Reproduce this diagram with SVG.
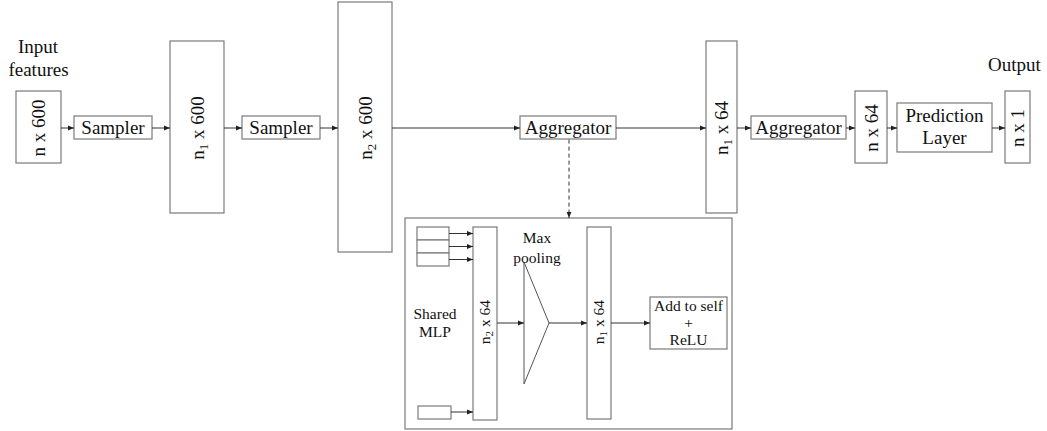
<svg xmlns="http://www.w3.org/2000/svg" width="1047" height="431" viewBox="0 0 1047 431">
<style>
.box{fill:#fff;stroke:#7a7a7a;stroke-width:1.2}
.ln{fill:none;stroke:#333;stroke-width:1}
.t{font-family:"Liberation Serif","Times New Roman",serif;font-size:19px;fill:#111}
.s{font-family:"Liberation Serif","Times New Roman",serif;font-size:15.5px;fill:#111}
.m{text-anchor:middle}
</style>
<defs>
<marker id="ah" viewBox="0 0 6 6" refX="6" refY="3" markerWidth="6" markerHeight="6" markerUnits="userSpaceOnUse" orient="auto">
<path d="M0,0.6 L6,3 L0,5.4 Z" fill="#222"/>
</marker>
</defs>
<rect width="1047" height="431" fill="#fff"/>
<g id="label-input">
<text class="t m" x="38" y="53">Input</text>
<text class="t m" x="38.5" y="76">features</text>
</g>
<g id="label-output">
<text class="t m" x="1014.5" y="71">Output</text>
</g>
<g id="in-n600">
<rect class="box" x="16" y="91" width="45" height="72"/>
<text class="t m" transform="translate(44.5,128) rotate(-90)">n x 600</text>
</g>
<g id="sampler1">
<rect class="box" x="74" y="116" width="78" height="23"/>
<text class="t m" x="113" y="133.5">Sampler</text>
</g>
<g id="n1-600">
<rect class="box" x="170" y="41" width="54" height="172"/>
<text class="t m" transform="translate(203.5,128) rotate(-90)">n<tspan font-size="13" dy="4">1</tspan><tspan dy="-4"> x 600</tspan></text>
</g>
<g id="sampler2">
<rect class="box" x="242" y="116" width="78" height="23"/>
<text class="t m" x="281" y="133.5">Sampler</text>
</g>
<g id="n2-600">
<rect class="box" x="338" y="2" width="54" height="250"/>
<text class="t m" transform="translate(371.5,128) rotate(-90)">n<tspan font-size="13" dy="4">2</tspan><tspan dy="-4"> x 600</tspan></text>
</g>
<g id="aggregator1">
<rect class="box" x="520" y="116" width="96" height="23"/>
<text class="t m" x="568" y="133.5">Aggregator</text>
</g>
<g id="n1-64">
<rect class="box" x="706" y="41" width="31" height="172"/>
<text class="t m" transform="translate(728,128) rotate(-90)">n<tspan font-size="13" dy="4">1</tspan><tspan dy="-4"> x 64</tspan></text>
</g>
<g id="aggregator2">
<rect class="box" x="751" y="116" width="95" height="23"/>
<text class="t m" x="798.5" y="133.5">Aggregator</text>
</g>
<g id="n-64">
<rect class="box" x="855" y="91" width="32" height="72"/>
<text class="t m" transform="translate(877.5,128) rotate(-90)">n x 64</text>
</g>
<g id="prediction">
<rect class="box" x="897" y="103" width="95" height="49"/>
<text class="t m" x="944.5" y="122">Prediction</text>
<text class="t m" x="944.5" y="144">Layer</text>
</g>
<g id="n-1">
<rect class="box" x="1005" y="91" width="25" height="72"/>
<text class="t m" transform="translate(1024,128) rotate(-90)">n x 1</text>
</g>
<g id="detail">
<rect class="box" x="405" y="218" width="327" height="211"/>
</g>
<g id="mlp-inputs">
<rect class="box" x="417" y="227" width="32" height="13"/>
<rect class="box" x="417" y="240" width="32" height="13"/>
<rect class="box" x="417" y="253" width="32" height="13"/>
<rect class="box" x="418" y="406" width="33" height="13"/>
</g>
<g id="shared-mlp">
<text class="s m" x="435" y="319">Shared</text>
<text class="s m" x="435" y="337">MLP</text>
</g>
<g id="n2-64">
<rect class="box" x="473" y="227" width="24" height="193"/>
<text class="s m" transform="translate(490,322) rotate(-90)">n<tspan font-size="11" dy="3">2</tspan><tspan dy="-3"> x 64</tspan></text>
</g>
<g id="maxpool">
<polygon points="524,262 549,323 524,384" fill="#fff" stroke="#555" stroke-width="1"/>
<text class="s m" x="537" y="243">Max</text>
<text class="s m" x="537" y="263">pooling</text>
</g>
<g id="n1-64-inner">
<rect class="box" x="587" y="227" width="24" height="192"/>
<text class="s m" transform="translate(604,322) rotate(-90)">n<tspan font-size="11" dy="3">1</tspan><tspan dy="-3"> x 64</tspan></text>
</g>
<g id="add-relu">
<rect class="box" x="650" y="297" width="77" height="52"/>
<text class="s m" x="688.5" y="311">Add to self</text>
<text class="s m" x="688.5" y="328">+</text>
<text class="s m" x="688.5" y="345">ReLU</text>
</g>
<g id="connectors">
<line class="ln" x1="61" y1="128" x2="74" y2="128" marker-end="url(#ah)"/>
<line class="ln" x1="152" y1="128" x2="170" y2="128" marker-end="url(#ah)"/>
<line class="ln" x1="224" y1="128" x2="242" y2="128" marker-end="url(#ah)"/>
<line class="ln" x1="320" y1="128" x2="338" y2="128" marker-end="url(#ah)"/>
<line class="ln" x1="392" y1="128" x2="520" y2="128" marker-end="url(#ah)"/>
<line class="ln" x1="616" y1="128" x2="706" y2="128" marker-end="url(#ah)"/>
<line class="ln" x1="737" y1="128" x2="751" y2="128" marker-end="url(#ah)"/>
<line class="ln" x1="846" y1="128" x2="855" y2="128" marker-end="url(#ah)"/>
<line class="ln" x1="887" y1="128" x2="897" y2="128" marker-end="url(#ah)"/>
<line class="ln" x1="992" y1="128" x2="1005" y2="128" marker-end="url(#ah)"/>
<line class="ln" x1="569" y1="139.6" x2="569" y2="218" stroke-dasharray="4,3" marker-end="url(#ah)"/>
<line class="ln" x1="449" y1="233.5" x2="473" y2="233.5" marker-end="url(#ah)"/>
<line class="ln" x1="449" y1="246.5" x2="473" y2="246.5" marker-end="url(#ah)"/>
<line class="ln" x1="449" y1="259.5" x2="473" y2="259.5" marker-end="url(#ah)"/>
<line class="ln" x1="451" y1="412" x2="473" y2="412" marker-end="url(#ah)"/>
<line class="ln" x1="497" y1="323" x2="524" y2="323" marker-end="url(#ah)"/>
<line class="ln" x1="549" y1="323" x2="587" y2="323" marker-end="url(#ah)"/>
<line class="ln" x1="611" y1="323" x2="650" y2="323" marker-end="url(#ah)"/>
</g>
</svg>
